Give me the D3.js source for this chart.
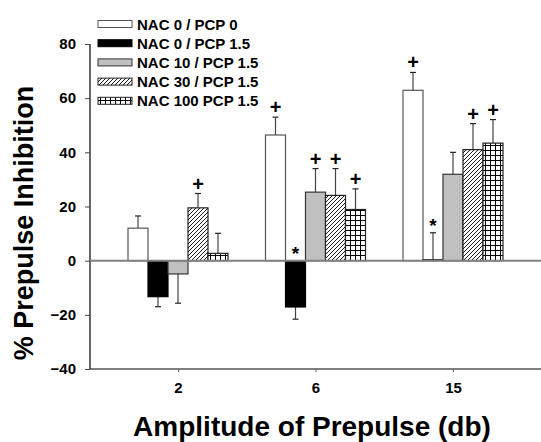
<!DOCTYPE html>
<html>
<head>
<meta charset="utf-8">
<script src="https://cdn.jsdelivr.net/npm/d3@7"></script>
<style>
  html, body { margin: 0; padding: 0; background: #fff; }
  svg { display: block; font-family: "Liberation Sans", Arial, sans-serif; }
</style>
</head>
<body>
<svg id="chart" width="541" height="442"></svg>
<script>
// ---- data ----
const categories = ["2", "6", "15"];
const seriesNames = ["NAC 0 / PCP 0", "NAC 0 / PCP 1.5", "NAC 10 / PCP 1.5", "NAC 30 / PCP 1.5", "NAC 100 PCP 1.5"];
const values_NAC0_PCP0   = [12.0, 46.4, 62.9];
const values_NAC0_PCP15  = [-13.3, -17.1, 0.3];
const values_NAC10_PCP15 = [-4.9, 25.3, 31.9];
const values_NAC30_PCP15 = [19.5, 24.1, 41.0];
const values_NAC100_PCP15= [2.7, 18.9, 43.4];
const errors_NAC0_PCP0   = [4.5, 6.6, 6.6];
const errors_NAC0_PCP15  = [3.7, 4.5, 10.0];
const errors_NAC10_PCP15 = [10.8, 8.7, 8.1];
const errors_NAC30_PCP15 = [5.3, 9.9, 9.6];
const errors_NAC100_PCP15= [7.4, 7.6, 8.7];
const marks_NAC0_PCP0    = ["", "+", "+"];
const marks_NAC0_PCP15   = ["", "*", "*"];
const marks_NAC10_PCP15  = ["", "+", ""];
const marks_NAC30_PCP15  = ["+", "+", "+"];
const marks_NAC100_PCP15 = ["", "+", "+"];
const yTicks = [-40, -20, 0, 20, 40, 60, 80];
const yTitle = "% Prepulse Inhibition";
const xTitle = "Amplitude of Prepulse (db)";

const allValues = [values_NAC0_PCP0, values_NAC0_PCP15, values_NAC10_PCP15, values_NAC30_PCP15, values_NAC100_PCP15];
const allErrors = [errors_NAC0_PCP0, errors_NAC0_PCP15, errors_NAC10_PCP15, errors_NAC30_PCP15, errors_NAC100_PCP15];
const allMarks  = [marks_NAC0_PCP0, marks_NAC0_PCP15, marks_NAC10_PCP15, marks_NAC30_PCP15, marks_NAC100_PCP15];
const fills = ["#ffffff", "#000000", "#c0c0c0", "url(#hatch)", "url(#grid)"];
const strokes = ["#555", "#000", "#333", "#222", "#222"];
const FONT = "Liberation Sans, Arial, sans-serif";

const svg = d3.select("#chart");

// patterns
const defs = svg.append("defs");
const hatch = defs.append("pattern").attr("id", "hatch").attr("patternUnits", "userSpaceOnUse")
  .attr("width", 4).attr("height", 4);
hatch.append("rect").attr("width", 4).attr("height", 4).attr("fill", "#fff");
hatch.append("path").attr("d", "M-1,1 l2,-2 M0,4 l4,-4 M3,5 l2,-2").attr("stroke", "#000").attr("stroke-width", 0.9);
const grid = defs.append("pattern").attr("id", "grid").attr("patternUnits", "userSpaceOnUse")
  .attr("width", 5).attr("height", 5);
grid.append("rect").attr("width", 5).attr("height", 5).attr("fill", "#fff");
grid.append("path").attr("d", "M0.5,0 V5 M0,0.5 H5").attr("stroke", "#000").attr("stroke-width", 1);

// scales
const x = d3.scaleLinear().domain([0.36, 3.64]).range([90, 541]);
const y = d3.scaleLinear().domain([-40, 80]).range([369, 44]);
const sub = d3.scaleBand().domain(seriesNames).range([-50, 50]).padding(0);

// y axis
const yAxis = svg.append("g").attr("transform", "translate(90,0)")
  .call(d3.axisLeft(y).tickValues(yTicks).tickSize(5).tickPadding(9).tickFormat(d3.format("d")));
yAxis.select(".domain").attr("stroke", "#000").attr("stroke-width", 1.2).attr("d", `M0,${y(80)}V${y(-40)}`);
yAxis.selectAll(".tick line").attr("stroke", "#444");
yAxis.selectAll(".tick text").attr("font-size", "15px").attr("font-weight", "bold").attr("fill", "#000")
  .attr("font-family", FONT);

// x axis at bottom
const xAxis = svg.append("g").attr("transform", `translate(0,${y(-40)})`)
  .call(d3.axisBottom(x).tickValues([1, 2, 3]).tickSize(3).tickPadding(10).tickFormat((d, i) => categories[i]));
xAxis.select(".domain").attr("stroke", "#000").attr("stroke-width", 1.2).attr("d", `M${x.range()[0]},0H${x.range()[1]}`);
xAxis.selectAll(".tick line").attr("stroke", "#666");
xAxis.selectAll(".tick text").attr("font-size", "15px").attr("font-weight", "bold").attr("fill", "#000")
  .attr("font-family", FONT);

// bars
const bars = [];
seriesNames.forEach((s, j) => {
  categories.forEach((c, i) => {
    bars.push({ s, j, i, v: allValues[j][i], e: allErrors[j][i], m: allMarks[j][i] });
  });
});

const g = svg.append("g");
// error bars (one-sided)
g.selectAll("line.err").data(bars).join("line").attr("class", "err")
  .attr("x1", d => x(d.i + 1) + sub(d.s) + sub.bandwidth() / 2)
  .attr("x2", d => x(d.i + 1) + sub(d.s) + sub.bandwidth() / 2)
  .attr("y1", d => y(d.v))
  .attr("y2", d => y(d.v >= 0 ? d.v + d.e : d.v - d.e))
  .attr("stroke", "#444").attr("stroke-width", 1.2);
g.selectAll("line.cap").data(bars).join("line").attr("class", "cap")
  .attr("x1", d => x(d.i + 1) + sub(d.s) + sub.bandwidth() / 2 - 3)
  .attr("x2", d => x(d.i + 1) + sub(d.s) + sub.bandwidth() / 2 + 3)
  .attr("y1", d => y(d.v >= 0 ? d.v + d.e : d.v - d.e))
  .attr("y2", d => y(d.v >= 0 ? d.v + d.e : d.v - d.e))
  .attr("stroke", "#222").attr("stroke-width", 1.2);

g.selectAll("rect.bar").data(bars).join("rect").attr("class", "bar")
  .attr("x", d => x(d.i + 1) + sub(d.s))
  .attr("width", sub.bandwidth())
  .attr("y", d => y(Math.max(0, d.v)))
  .attr("height", d => Math.abs(y(d.v) - y(0)))
  .attr("fill", d => fills[d.j])
  .attr("stroke", d => strokes[d.j]).attr("stroke-width", 1.2);

// zero line
svg.append("line").attr("x1", x.range()[0]).attr("x2", x.range()[1])
  .attr("y1", y(0)).attr("y2", y(0)).attr("stroke", "#808080").attr("stroke-width", 2);

// significance marks
g.selectAll("text.mark").data(bars.filter(d => d.m)).join("text").attr("class", "mark")
  .attr("x", d => x(d.i + 1) + sub(d.s) + sub.bandwidth() / 2)
  .attr("y", d => d.m === "+" ? y(Math.max(0, d.v + d.e)) - 3 : y(Math.max(0, d.v >= 0 ? d.v + d.e : 0)) - 1)
  .attr("text-anchor", "middle")
  .attr("font-size", d => d.m === "+" ? "20px" : "19px")
  .attr("font-weight", "bold")
  .attr("font-family", FONT)
  .text(d => d.m);

// legend
const legend = svg.append("g");
seriesNames.forEach((s, j) => {
  const ly = 24 + j * 19.2;
  legend.append("rect").attr("x", 98).attr("y", ly - 3.5).attr("width", 34).attr("height", 7)
    .attr("fill", fills[j]).attr("stroke", strokes[j]).attr("stroke-width", 1);
  legend.append("text").attr("x", 137).attr("y", ly + 5.5).attr("font-family", FONT)
    .attr("font-size", "15px").attr("font-weight", "bold").text(s);
});

// titles
svg.append("text").attr("x", 312).attr("y", 436).attr("text-anchor", "middle").attr("font-family", FONT)
  .attr("font-size", "28px").attr("font-weight", "bold").text(xTitle);
svg.append("text").attr("transform", "translate(33,223) rotate(-90)").attr("text-anchor", "middle").attr("font-family", FONT)
  .attr("font-size", "27px").attr("font-weight", "bold").text(yTitle);
</script>
</body>
</html>
